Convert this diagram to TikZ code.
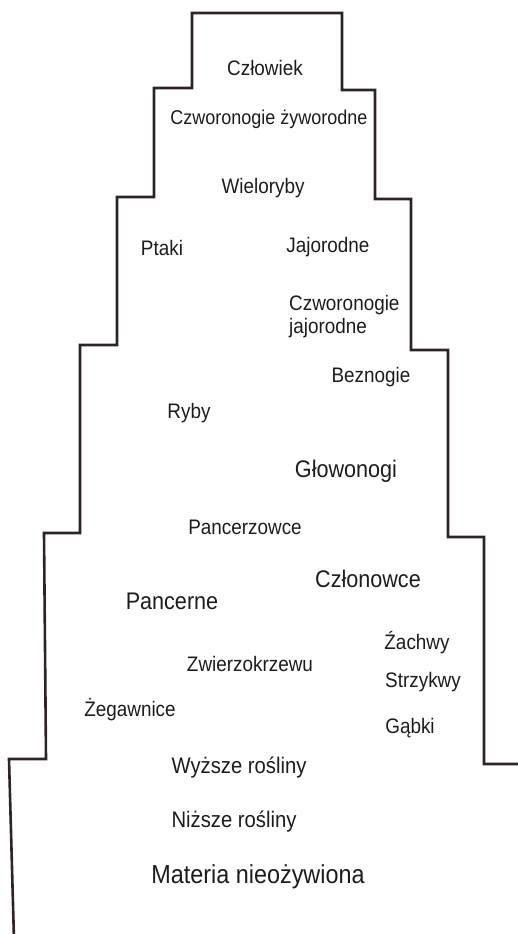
\documentclass[tikz,border=0pt]{standalone}
\usepackage{fontspec}
\setmainfont[FakeStretch=0.9]{Liberation Sans}
\definecolor{ink}{HTML}{1E1B1B}
\definecolor{edge}{HTML}{2E2424}
\tikzset{
  taxon/.style={
    inner sep=0pt,
    anchor=base,
    text=ink,
    font=\fontsize{21}{23}\selectfont
  },
  bigtaxon/.style={taxon,font=\fontsize{24}{28}\selectfont},
  planttaxon/.style={taxon,font=\fontsize{22.5}{26}\selectfont},
  outline/.style={draw=edge,line width=2.6pt,line join=miter}
}

\begin{document}
\begin{tikzpicture}[x=1pt,y=-1pt]
\useasboundingbox (0,0) rectangle (517,934);
% stepped outline of the ladder
\draw[outline] (14,940) -- (9,759) -- (46,759) -- (44,533) -- (80,533)
  -- (80,345) -- (117,345) -- (117,197) -- (154,197) -- (154,88)
  -- (192,88) -- (192,13) -- (342,13) -- (342,90) -- (375,90)
  -- (375,199) -- (411,199) -- (411,350) -- (448,350) -- (448,537)
  -- (484,537) -- (484,764) -- (522,764);
% animals
\node[taxon] (czlowiek) at (265,75) {Człowiek};
\node[taxon,font=\fontsize{20}{23}\selectfont] (zyworodne) at (269,124) {Czworonogie żyworodne};
\node[taxon] (wieloryby) at (263,193) {Wieloryby};
\node[taxon] (ptaki) at (162,255) {Ptaki};
\node[taxon] (jajorodne) at (328,252) {Jajorodne};
\node[taxon,anchor=base west,align=left] (czworonogie) at (289,333) {Czworonogie\\jajorodne};
\node[taxon] (beznogie) at (371,382) {Beznogie};
\node[taxon] (ryby) at (189,418) {Ryby};
\node[bigtaxon] (glowonogi) at (346,477) {Głowonogi};
\node[taxon] (pancerzowce) at (245,534) {Pancerzowce};
\node[bigtaxon] (czlonowce) at (368,587) {Członowce};
\node[bigtaxon] (pancerne) at (172,609) {Pancerne};
\node[taxon] (zachwy) at (417,649) {Źachwy};
\node[taxon] (zwierzokrzewy) at (250,671) {Zwierzokrzewu};
\node[taxon] (strzykwy) at (423,687) {Strzykwy};
\node[taxon] (zegawnice) at (130,716) {Żegawnice};
\node[taxon] (gabki) at (410,733) {Gąbki};
% plants and matter
\node[planttaxon] (wyzsze) at (239,773) {Wyższe rośliny};
\node[planttaxon] (nizsze) at (234,827) {Niższe rośliny};
\node[taxon,font=\fontsize{26}{30}\selectfont] (materia) at (258,883) {Materia nieożywiona};
\end{tikzpicture}
\end{document}
